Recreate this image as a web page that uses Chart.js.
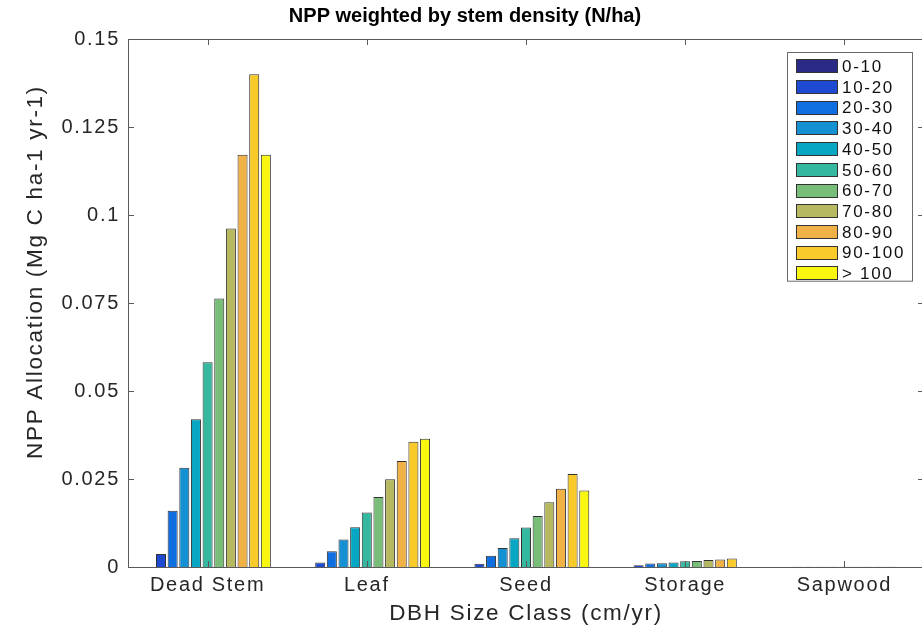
<!DOCTYPE html>
<html>
<head>
<meta charset="utf-8">
<script src="https://cdn.jsdelivr.net/npm/chart.js@4.4.0/dist/chart.umd.min.js"></script>
<style>
  html, body { margin: 0; padding: 0; background: #fff; overflow: hidden; }
  #wrap { width: 930px; height: 631px; }
</style>
</head>
<body>
<div id="wrap"><canvas id="nppChart" width="930" height="631"></canvas></div>
<script>
/* ====== data ===== */
const categories = ['Dead Stem', 'Leaf', 'Seed', 'Storage', 'Sapwood'];
const sizeClasses = ['0-10', '10-20', '20-30', '30-40', '40-50', '50-60',
                     '60-70', '70-80', '80-90', '90-100', '> 100'];
const classColors = ['#2b2a87', '#1e4ad2', '#0f6fe0', '#1490d3', '#07a7c3', '#34b89f',
                     '#78be78', '#b6b95f', '#f0b146', '#f8cb2b', '#f9f70f'];

// one array per category, one value per size class
const deadStem = [0, 0.0037, 0.016, 0.0282, 0.042, 0.0582, 0.0763, 0.0962, 0.1171, 0.140, 0.1171];
const leaf     = [0, 0.0013, 0.0045, 0.0078, 0.0113, 0.0155, 0.0199, 0.0249, 0.0301, 0.0356, 0.0364];
const seed     = [0, 0.0009, 0.0032, 0.0054, 0.0082, 0.0112, 0.0145, 0.0184, 0.0222, 0.0264, 0.0217];
const storage  = [0, 0.0005, 0.001, 0.0011, 0.0013, 0.0016, 0.0017, 0.002, 0.0021, 0.0024, 0];
const sapwood  = [0, 0.00005, 0.00005, 0.00005, 0.00005, 0.00005, 0.00005, 0.00005, 0.00005, 0.00005, 0];

const yTicks = [0, 0.025, 0.05, 0.075, 0.1, 0.125, 0.15];

const byCategory = [deadStem, leaf, seed, storage, sapwood];

/* ====== datasets (one per size class) ===== */
const datasets = sizeClasses.map((label, i) => ({
    label: label,
    data: byCategory.map(arr => arr[i]),
    backgroundColor: classColors[i],
    borderColor: '#333333',
    borderWidth: 1,
    categoryPercentage: 0.805,
    barPercentage: 0.86,
}));

const FONT = 'Liberation Sans, Arial, Helvetica, sans-serif';
const TEXT = '#262626';
const SPACING = '1.7px';   // matlab's helvetica is set wider than liberation

const chartTitle = 'NPP weighted by stem density (N/ha)';
const yTitle = 'NPP Allocation (Mg C ha-1 yr-1)';

/* wider letter spacing for all of chart.js's own text */
const letterSpacing = {
    id: 'letterSpacing',
    beforeLayout(chart) { chart.ctx.letterSpacing = SPACING; },
    beforeDraw(chart) { chart.ctx.letterSpacing = SPACING; },
};

/* axes box, inward ticks, titles and legend like the matlab figure */
const matlabAxes = {
    id: 'matlabAxes',
    afterDraw(chart) {
        const {ctx, chartArea: a, scales: {x, y}} = chart;
        ctx.save();
        ctx.strokeStyle = '#5a5a5a';
        ctx.lineWidth = 1;
        ctx.strokeRect(a.left + 0.5, a.top + 0.5, a.right - a.left, a.bottom - a.top);

        ctx.beginPath();
        y.ticks.forEach((t, i) => {
            const py = Math.round(y.getPixelForTick(i)) + 0.5;
            ctx.moveTo(a.left, py); ctx.lineTo(a.left + 6, py);
            ctx.moveTo(a.right, py); ctx.lineTo(a.right - 6, py);
        });
        x.ticks.forEach((t, i) => {
            const px = Math.round(x.getPixelForTick(i)) + 0.5;
            ctx.moveTo(px, a.bottom); ctx.lineTo(px, a.bottom - 6);
            ctx.moveTo(px, a.top); ctx.lineTo(px, a.top + 6);
        });
        ctx.stroke();

        // y title (sits a bit above the axes middle in the original)
        ctx.save();
        ctx.letterSpacing = SPACING;
        ctx.fillStyle = TEXT;
        ctx.font = '22.5px ' + FONT;
        ctx.textAlign = 'center';
        ctx.textBaseline = 'middle';
        ctx.translate(36, 272);
        ctx.rotate(-Math.PI / 2);
        ctx.fillText(yTitle, 0, 0);
        ctx.restore();

        // title
        ctx.letterSpacing = '0px';
        ctx.fillStyle = '#000';
        ctx.font = 'bold 20px ' + FONT;
        ctx.textAlign = 'center';
        ctx.textBaseline = 'middle';
        ctx.fillText(chartTitle, chart.width / 2, 16);

        // legend
        const lw = 125, rowH = 20.7;
        const lx = a.right - 12 - lw, ly = a.top + 13;
        const lh = rowH * chart.data.datasets.length + 1;
        ctx.fillStyle = '#fff';
        ctx.fillRect(lx, ly, lw, lh);
        ctx.strokeStyle = '#6a6a6a';
        ctx.strokeRect(Math.round(lx) + 0.5, Math.round(ly) + 0.5, lw, lh);
        ctx.letterSpacing = SPACING;
        ctx.font = '17px ' + FONT;
        ctx.textBaseline = 'middle';
        ctx.textAlign = 'left';
        chart.data.datasets.forEach((ds, i) => {
            const cy = ly + 4 + rowH * i + rowH / 2;
            ctx.fillStyle = ds.backgroundColor;
            ctx.fillRect(lx + 9, Math.round(cy - 7), 42, 14);
            ctx.strokeStyle = '#333';
            ctx.strokeRect(lx + 9.5, Math.round(cy - 7) + 0.5, 41, 13);
            ctx.fillStyle = '#111';
            ctx.fillText(ds.label, lx + 55, cy + 1);
        });
        ctx.restore();
    }
};

const nppConfig = {
    type: 'bar',
    data: { labels: categories, datasets: datasets },
    options: {
        responsive: false,
        animation: false,
        devicePixelRatio: 1,
        layout: { padding: { left: 0, right: 6, top: 39, bottom: 0 } },
        plugins: {
            legend: { display: false },
            tooltip: { enabled: false },
            title: { display: false },
        },
        scales: {
            x: {
                grid: { display: false, drawTicks: false },
                border: { display: false },
                ticks: { color: TEXT, font: { family: FONT, size: 20 }, padding: 6 },
                title: {
                    display: true,
                    text: 'DBH Size Class (cm/yr)',
                    color: TEXT,
                    font: { family: FONT, size: 22.5 },
                    padding: { top: 0, bottom: 4 },
                },
                afterFit: s => { s.height = 64; },
            },
            y: {
                min: 0,
                max: 0.15,
                grid: { display: false, drawTicks: false },
                border: { display: false },
                afterBuildTicks: s => { s.ticks = yTicks.map(v => ({ value: v })); },
                ticks: {
                    color: TEXT,
                    font: { family: FONT, size: 20 },
                    padding: 8,
                    callback: v => String(v),
                },
                afterFit: s => { s.width = 128; },
            }
        }
    },
    plugins: [letterSpacing, matlabAxes],
};

const nppChart = new Chart(
    document.querySelector('#nppChart'),
    nppConfig
);
</script>
</body>
</html>
